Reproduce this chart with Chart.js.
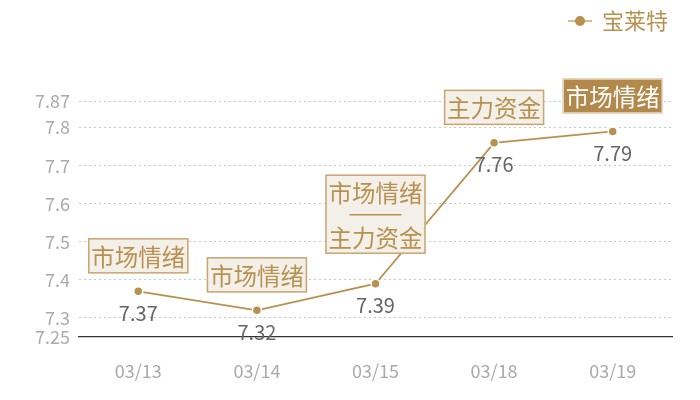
<!DOCTYPE html>
<html><head><meta charset="utf-8">
<script src="https://cdn.jsdelivr.net/npm/chart.js@4/dist/chart.umd.min.js"></script>
<style>html,body{margin:0;padding:0;background:#fff}canvas{display:block}</style>
</head><body><canvas id="c" width="700" height="400" style="width:700px;height:400px"></canvas>
<script>
const categories = ['03/13','03/14','03/15','03/18','03/19'];
const seriesName = '宝莱特';
const values = [7.37, 7.32, 7.39, 7.76, 7.79];
const yTicks = [7.25, 7.3, 7.4, 7.5, 7.6, 7.7, 7.8, 7.87];
const annotations = [['市场情绪'], ['市场情绪'], ['市场情绪', '主力资金'], ['主力资金'], ['市场情绪']];
const highlighted = [false, false, false, false, true];

const GOLD = '#b8914f';
const FONT = '"Noto Sans CJK SC","Noto Sans",sans-serif';

// legend marker: line with dot
const mk = document.createElement('canvas');
mk.width = 24; mk.height = 12;
(function(){const g=mk.getContext('2d');g.strokeStyle='#c9a56f';g.lineWidth=1.5;g.beginPath();g.moveTo(0,6);g.lineTo(24,6);g.stroke();g.fillStyle=GOLD;g.beginPath();g.arc(12,6,5,0,Math.PI*2);g.fill();})();

const annoPlugin = {
  id: 'anno',
  afterDatasetsDraw(chart) {
    const ctx = chart.ctx, xs = chart.scales.x, ys = chart.scales.y;
    ctx.save();
    values.forEach((v, i) => {
      const x = xs.getPixelForValue(i), y = ys.getPixelForValue(v);
      ctx.font = '20px ' + FONT;
      ctx.fillStyle = '#666';
      ctx.textAlign = 'center'; ctx.textBaseline = 'middle';
      ctx.fillText(String(v), x, y + 22);
      const lines = annotations[i];
      const multi = lines.length > 1;
      const w = 100;
      const h = multi ? 79 : 35;
      const bottom = y - (multi ? 30 : 18), top = bottom - h, left = x - w / 2;
      const hi = highlighted[i];
      ctx.fillStyle = hi ? '#b3894b' : '#f3efe9';
      ctx.fillRect(left, top, w, h);
      ctx.strokeStyle = hi ? '#e8dcc8' : '#c9a56f';
      ctx.lineWidth = 1.5;
      ctx.strokeRect(left + 0.5, top + 0.5, w - 1, h - 1);
      ctx.fillStyle = hi ? '#ffffff' : GOLD;
      ctx.font = '23.5px ' + FONT;
      if (!multi) {
        ctx.fillText(lines[0], x, top + h / 2 + 1);
      } else {
        ctx.fillText(lines[0], x, top + 18);
        ctx.strokeStyle = GOLD; ctx.lineWidth = 1.5;
        ctx.beginPath(); ctx.moveTo(x - 26, top + 40); ctx.lineTo(x + 26, top + 40); ctx.stroke();
        ctx.fillText(lines[1], x, top + 63);
      }
    });
    ctx.restore();
  }
};

new Chart(document.getElementById('c'), {
  type: 'line',
  data: {
    labels: categories,
    datasets: [{
      label: seriesName,
      data: values,
      borderColor: GOLD,
      backgroundColor: GOLD,
      borderWidth: 1.8,
      pointRadius: 4.5,
      pointBackgroundColor: GOLD,
      pointBorderColor: '#fff',
      pointBorderWidth: 1.5,
      tension: 0
    }]
  },
  options: {
    responsive: false,
    animation: false,
    devicePixelRatio: 1,
    layout: { padding: { top: 6, right: 28, bottom: 0, left: 0 } },
    plugins: {
      legend: {
        display: true,
        align: 'end',
        labels: {
          usePointStyle: true,
          pointStyle: mk,
          color: GOLD,
          font: { size: 22, family: FONT },
          padding: 4,
          boxWidth: 24
        }
      },
      tooltip: { enabled: false }
    },
    scales: {
      x: {
        offset: true,
        afterFit(scale) { scale.height = 63; },
        grid: { display: false, drawTicks: false },
        border: { display: true, color: '#333', width: 1.2 },
        ticks: { color: '#aaa', font: { size: 18, family: FONT }, padding: 23, maxRotation: 0 }
      },
      y: {
        min: 7.25, max: 7.87,
        afterBuildTicks(scale) { scale.ticks = yTicks.map(v => ({ value: v })); },
        afterFit(scale) { scale.width = 79; },
        grid: {
          drawTicks: false,
          color: ctx => (ctx.tick && ctx.tick.value === 7.25) ? 'rgba(0,0,0,0)' : '#c8c8c8',
          lineWidth: 1
        },
        border: { display: false, dash: [2, 3] },
        ticks: {
          color: '#aaa',
          font: { size: 18, family: FONT },
          padding: 9,
          autoSkip: false,
          callback: v => String(+(+v).toFixed(2))
        }
      }
    }
  },
  plugins: [annoPlugin, {
    id: 'topPad',
    beforeInit(chart) {
      const fit = chart.legend.fit;
      chart.legend.fit = function() { fit.call(this); this.height = 95; };
    }
  }]
});
</script></body></html>
